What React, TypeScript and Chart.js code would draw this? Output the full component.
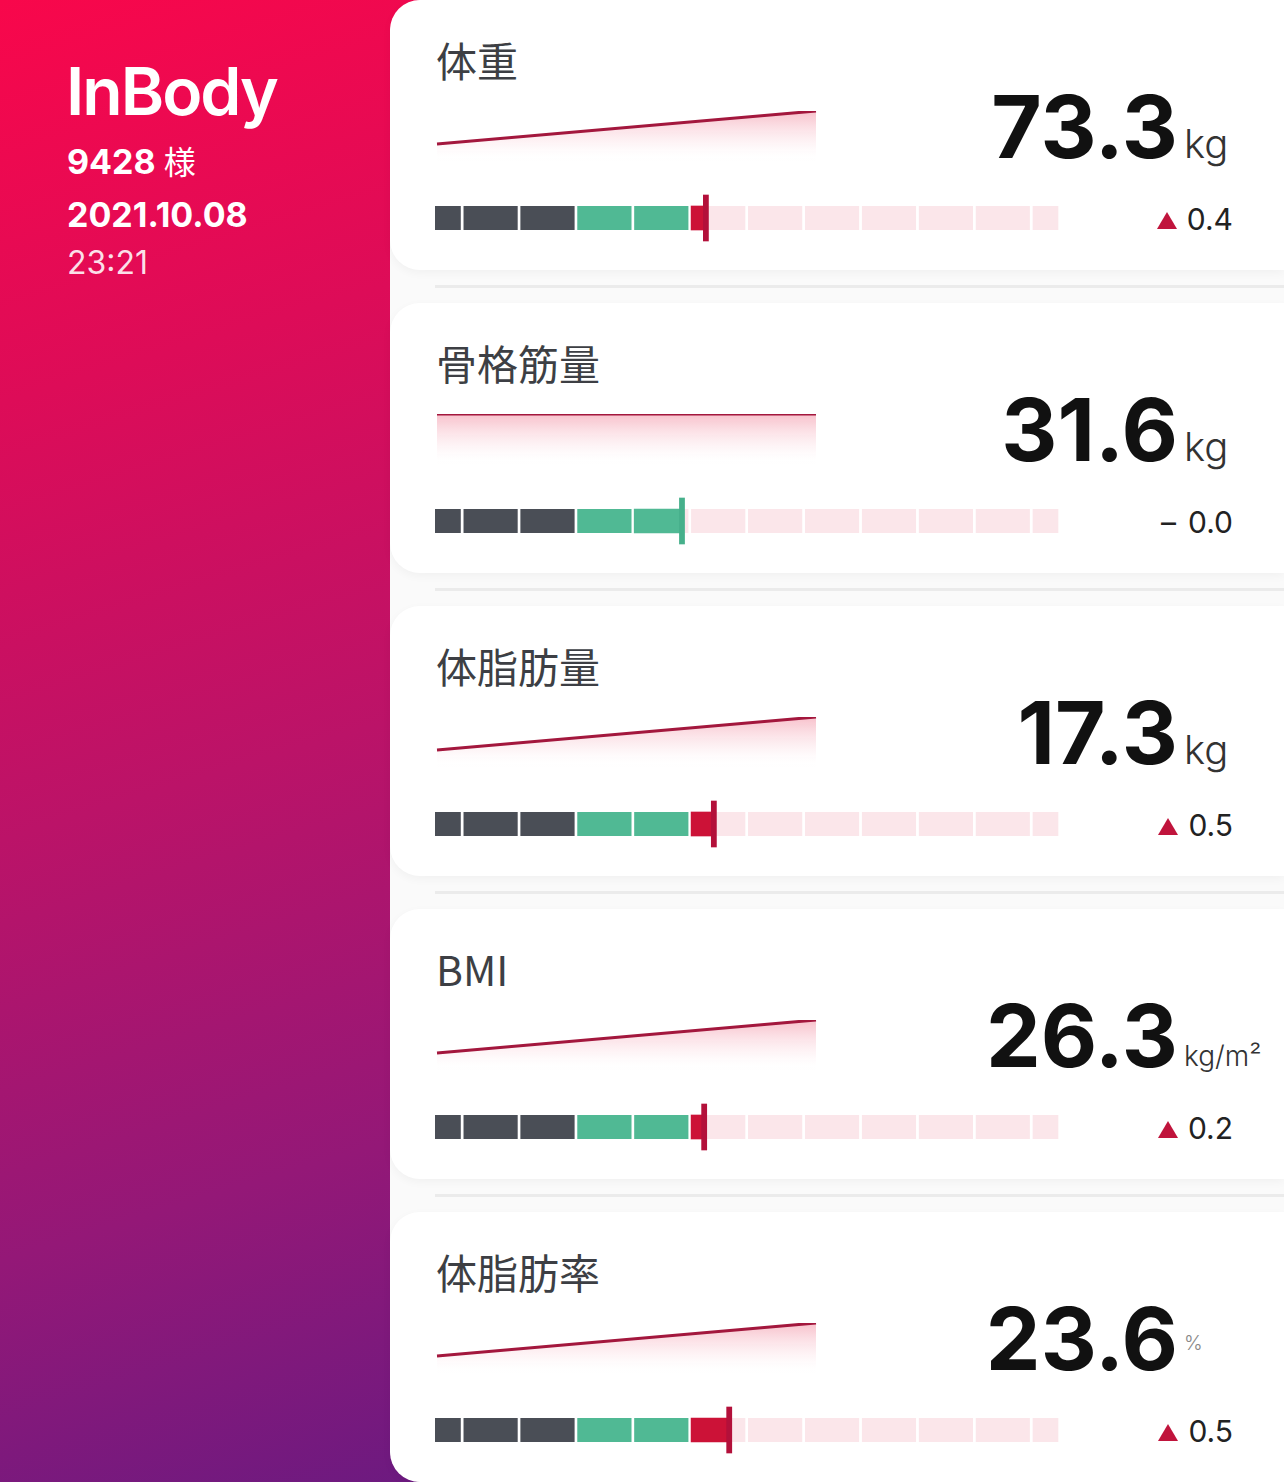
import { useEffect, useRef } from 'react';
import { Chart, registerables } from 'chart.js';

Chart.register(...registerables);

// values
const titles = ['体重', '骨格筋量', '体脂肪量', 'BMI', '体脂肪率'];
const units = ['kg', 'kg', 'kg', 'kg/m²', '%'];
const prevValues = [72.9, 31.6, 16.8, 26.1, 23.1];
const currentValues = [73.3, 31.6, 17.3, 26.3, 23.6];
const deltas = [0.4, 0.0, 0.5, 0.2, 0.5];
// marker position on the segmented gauge, in cell units
const gaugeValues = [4.76, 4.34, 4.9, 4.73, 5.17];
const trendLabels = ['前回', '今回'];
const gaugeEdges = [0, 0.5, 1.5, 2.5, 3.5, 4.5, 5.5, 6.5, 7.5, 8.5, 9.5, 10.5, 11];
const gaugeZones = ['under', 'under', 'under', 'normal', 'normal', 'over', 'over', 'over', 'over', 'over', 'over', 'over'];

const zoneColors: Record<string, string> = { under: '#4a4e56', normal: '#50b994', over: '#cc1237' };
const markerColors: Record<string, string> = { under: '#3c4047', normal: '#46b08b', over: '#b3103a' };
const paleColor = '#fbe6ea';
const unitSizes: Record<string, number> = { kg: 40, 'kg/m²': 28, '%': 20 };
const unitTops: Record<string, number> = { kg: 124, 'kg/m²': 133, '%': 121 };

const LATIN = 'Inter, "Noto Sans CJK JP", sans-serif';
const CJK = '"Noto Sans CJK JP", Inter, sans-serif';

function Trend({ prev, cur }: { prev: number; cur: number }) {
  const ref = useRef<HTMLCanvasElement>(null);
  useEffect(() => {
    const hi = Math.max(prev, cur);
    const lo = Math.min(prev, cur);
    const range = hi - lo || 1;
    const chart = new Chart(ref.current!, {
      type: 'line',
      data: {
        labels: trendLabels,
        datasets: [
          {
            data: [prev, cur],
            borderColor: '#a3173d',
            borderWidth: 3,
            pointRadius: 0,
            tension: 0,
            fill: 'start',
            backgroundColor: (c: any) => {
              const area = c.chart.chartArea;
              if (!area) return 'rgba(0,0,0,0)';
              const g = c.chart.ctx.createLinearGradient(0, area.top, 0, area.bottom);
              g.addColorStop(0, 'rgba(236,90,118,0.38)');
              g.addColorStop(0.6, 'rgba(245,170,185,0.15)');
              g.addColorStop(1, 'rgba(255,255,255,0)');
              return g;
            },
          },
        ],
      },
      options: {
        animation: false,
        responsive: false,
        events: [],
        layout: { padding: { left: 5, right: 6, top: 11, bottom: 0 } },
        plugins: { legend: { display: false }, tooltip: { enabled: false } },
        scales: {
          x: { display: false, offset: false },
          y: { display: false, max: hi, min: hi - range * 1.55 },
        },
      },
    });
    return () => chart.destroy();
  }, [prev, cur]);
  return (
    <canvas
      ref={ref}
      width={390}
      height={62}
      style={{ position: 'absolute', left: 42, top: 100, width: 390, height: 62 }}
    />
  );
}

function Gauge({ value }: { value: number }) {
  const ref = useRef<HTMLCanvasElement>(null);
  useEffect(() => {
    const cells = gaugeZones.map((zone, i) => ({ zone, from: gaugeEdges[i], to: gaugeEdges[i + 1] }));
    const current = cells.find((c) => value >= c.from && value < c.to) ?? cells[cells.length - 1];
    const chart = new Chart(ref.current!, {
      type: 'bar',
      data: {
        labels: ['gauge'],
        datasets: [
          {
            data: [{ y: 'gauge', x: [value - 0.045, value + 0.045] }] as any,
            backgroundColor: markerColors[current.zone],
            barThickness: 46,
            grouped: false,
            order: 0,
          },
          {
            data: [{ y: 'gauge', x: [current.from, value] }] as any,
            backgroundColor: zoneColors[current.zone],
            barThickness: 24,
            grouped: false,
            order: 1,
          },
          {
            data: cells.map((c) => ({ y: 'gauge', x: [c.from, c.to] })) as any,
            backgroundColor: cells.map((c) => (value >= c.to ? zoneColors[c.zone] : paleColor)),
            borderColor: '#ffffff',
            borderWidth: { left: 0, right: 3, top: 0, bottom: 0 },
            borderSkipped: false,
            barThickness: 24,
            grouped: false,
            order: 2,
          },
        ],
      },
      options: {
        indexAxis: 'y',
        animation: false,
        responsive: false,
        events: [],
        layout: { padding: 0 },
        plugins: { legend: { display: false }, tooltip: { enabled: false } },
        scales: {
          x: { type: 'linear', min: gaugeEdges[0], max: gaugeEdges[gaugeEdges.length - 1], display: false },
          y: { display: false },
        },
      },
    } as any);
    return () => chart.destroy();
  }, [value]);
  return (
    <canvas
      ref={ref}
      width={626}
      height={50}
      style={{ position: 'absolute', left: 45, top: 193, width: 626, height: 50 }}
    />
  );
}

function Delta({ d }: { d: number }) {
  const up = d > 0;
  return (
    <div
      style={{
        position: 'absolute',
        right: 51,
        top: 204,
        display: 'flex',
        alignItems: 'center',
        fontFamily: LATIN,
        fontSize: 30,
        lineHeight: '30px',
        color: '#222',
      }}
    >
      {d === 0 ? (
        <span style={{ marginRight: 12 }}>–</span>
      ) : (
        <span
          style={{
            width: 0,
            height: 0,
            borderLeft: '10px solid transparent',
            borderRight: '10px solid transparent',
            borderBottom: up ? '17px solid #c0143c' : 'none',
            borderTop: up ? 'none' : '17px solid #3b6fd6',
            marginRight: 10,
            marginTop: 2,
          }}
        />
      )}
      <span>{Math.abs(d).toFixed(1)}</span>
    </div>
  );
}

function Card({ i }: { i: number }) {
  const unit = units[i];
  return (
    <div
      style={{
        position: 'absolute',
        left: 390,
        top: i * 303,
        width: 894,
        height: 270,
        background: '#ffffff',
        borderRadius: '30px 0 0 30px',
        boxShadow: '0 3px 10px rgba(0,0,0,0.04)',
      }}
    >
      <div
        style={{
          position: 'absolute',
          left: 46,
          top: 39,
          fontFamily: CJK,
          fontSize: 41,
          lineHeight: '41px',
          color: '#3d3f44',
        }}
      >
        {titles[i]}
      </div>
      <Trend prev={prevValues[i]} cur={currentValues[i]} />
      <div
        style={{
          position: 'absolute',
          right: 106,
          top: 83,
          fontFamily: LATIN,
          fontWeight: 700,
          fontSize: 87,
          lineHeight: '87px',
          color: '#111',
        }}
      >
        {currentValues[i].toFixed(1)}
      </div>
      <div
        style={{
          position: 'absolute',
          left: 794,
          top: unitTops[unit],
          fontFamily: LATIN,
          fontWeight: 300,
          fontSize: unitSizes[unit],
          lineHeight: unitSizes[unit] + 'px',
          color: unit === '%' ? '#888' : '#333',
        }}
      >
        {unit}
      </div>
      <Gauge value={gaugeValues[i]} />
      <Delta d={deltas[i]} />
    </div>
  );
}

export default function App() {
  return (
    <div
      style={{
        position: 'absolute',
        left: 0,
        top: 0,
        width: 1284,
        height: 1482,
        overflow: 'hidden',
        background: '#ffffff',
      }}
    >
      <div
        style={{
          position: 'absolute',
          left: 0,
          top: 0,
          width: 440,
          height: 1482,
          background: 'linear-gradient(163deg, #f8074b 0%, #dd0c58 25%, #bb1368 52%, #941877 78%, #6c1a80 100%)',
        }}
      />
      <div style={{ position: 'absolute', left: 66, top: 58, fontFamily: LATIN, fontWeight: 600, fontSize: 66, lineHeight: '66px', color: '#fff', letterSpacing: -2 }}>
        InBody
      </div>
      <div style={{ position: 'absolute', left: 67, top: 143, fontFamily: LATIN, fontWeight: 700, fontSize: 34, lineHeight: '34px', color: '#fff' }}>
        9428 <span style={{ fontFamily: CJK, fontWeight: 400, fontSize: 32 }}>様</span>
      </div>
      <div style={{ position: 'absolute', left: 67, top: 198, fontFamily: LATIN, fontWeight: 700, fontSize: 34, lineHeight: '34px', color: '#fff' }}>
        2021.10.08
      </div>
      <div style={{ position: 'absolute', left: 67, top: 247, fontFamily: LATIN, fontWeight: 400, fontSize: 32, lineHeight: '32px', color: 'rgba(255,255,255,0.88)' }}>
        23:21
      </div>
      <div
        style={{
          position: 'absolute',
          left: 390,
          top: 0,
          width: 894,
          height: 1482,
          background: '#fafafa',
          borderRadius: '34px 0 0 34px',
        }}
      />
      {[0, 1, 2, 3].map((i) => (
        <div
          key={'sep' + i}
          style={{ position: 'absolute', left: 435, top: i * 303 + 285, width: 849, height: 3, background: '#ebebeb' }}
        />
      ))}
      {titles.map((_, i) => (
        <Card key={i} i={i} />
      ))}
    </div>
  );
}
